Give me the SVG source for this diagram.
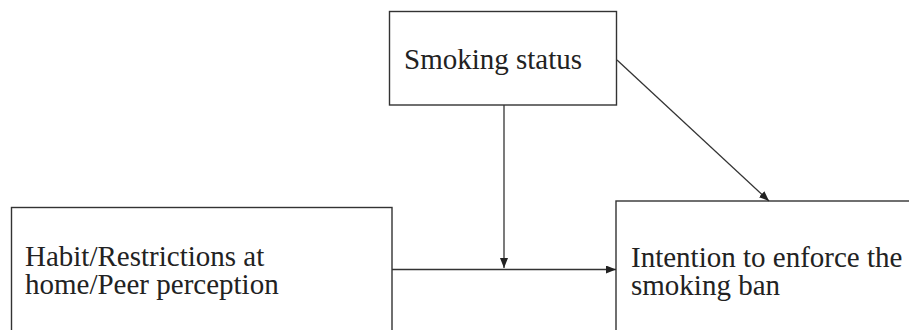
<svg xmlns="http://www.w3.org/2000/svg" width="909" height="330" viewBox="0 0 909 330">
<style>
.box{fill:#fff;stroke:#333;stroke-width:1.4}
.lbl{font-family:"Liberation Serif","Times New Roman",serif;font-size:29px;fill:#222}
.conn{stroke:#333;stroke-width:1.3;fill:none;marker-end:url(#ah)}
</style>
<defs>
<marker id="ah" viewBox="0 0 10 8" refX="10" refY="4" markerWidth="10" markerHeight="8" markerUnits="userSpaceOnUse" orient="auto">
<path d="M0,0 L10,4 L0,8 Z" fill="#222"/>
</marker>
</defs>
<rect width="909" height="330" fill="#fff"/>
<g id="smoking-status">
<rect class="box" x="389.5" y="11.5" width="227" height="93.5"/>
<text class="lbl" x="404" y="69">Smoking status</text>
</g>
<g id="habit">
<rect class="box" x="11.5" y="207.5" width="380.5" height="140"/>
<text class="lbl" x="25" y="266">Habit/Restrictions at</text>
<text class="lbl" x="25" y="294">home/Peer perception</text>
</g>
<g id="intention">
<rect class="box" x="616" y="201" width="320" height="150"/>
<text class="lbl" x="631" y="267">Intention to enforce the</text>
<text class="lbl" x="631" y="295">smoking ban</text>
</g>
<g id="connectors">
<line class="conn" x1="392" y1="269.5" x2="616" y2="269.5"/>
<line class="conn" x1="504" y1="105" x2="504" y2="268"/>
<line class="conn" x1="617" y1="60" x2="769" y2="201"/>
</g>
</svg>
